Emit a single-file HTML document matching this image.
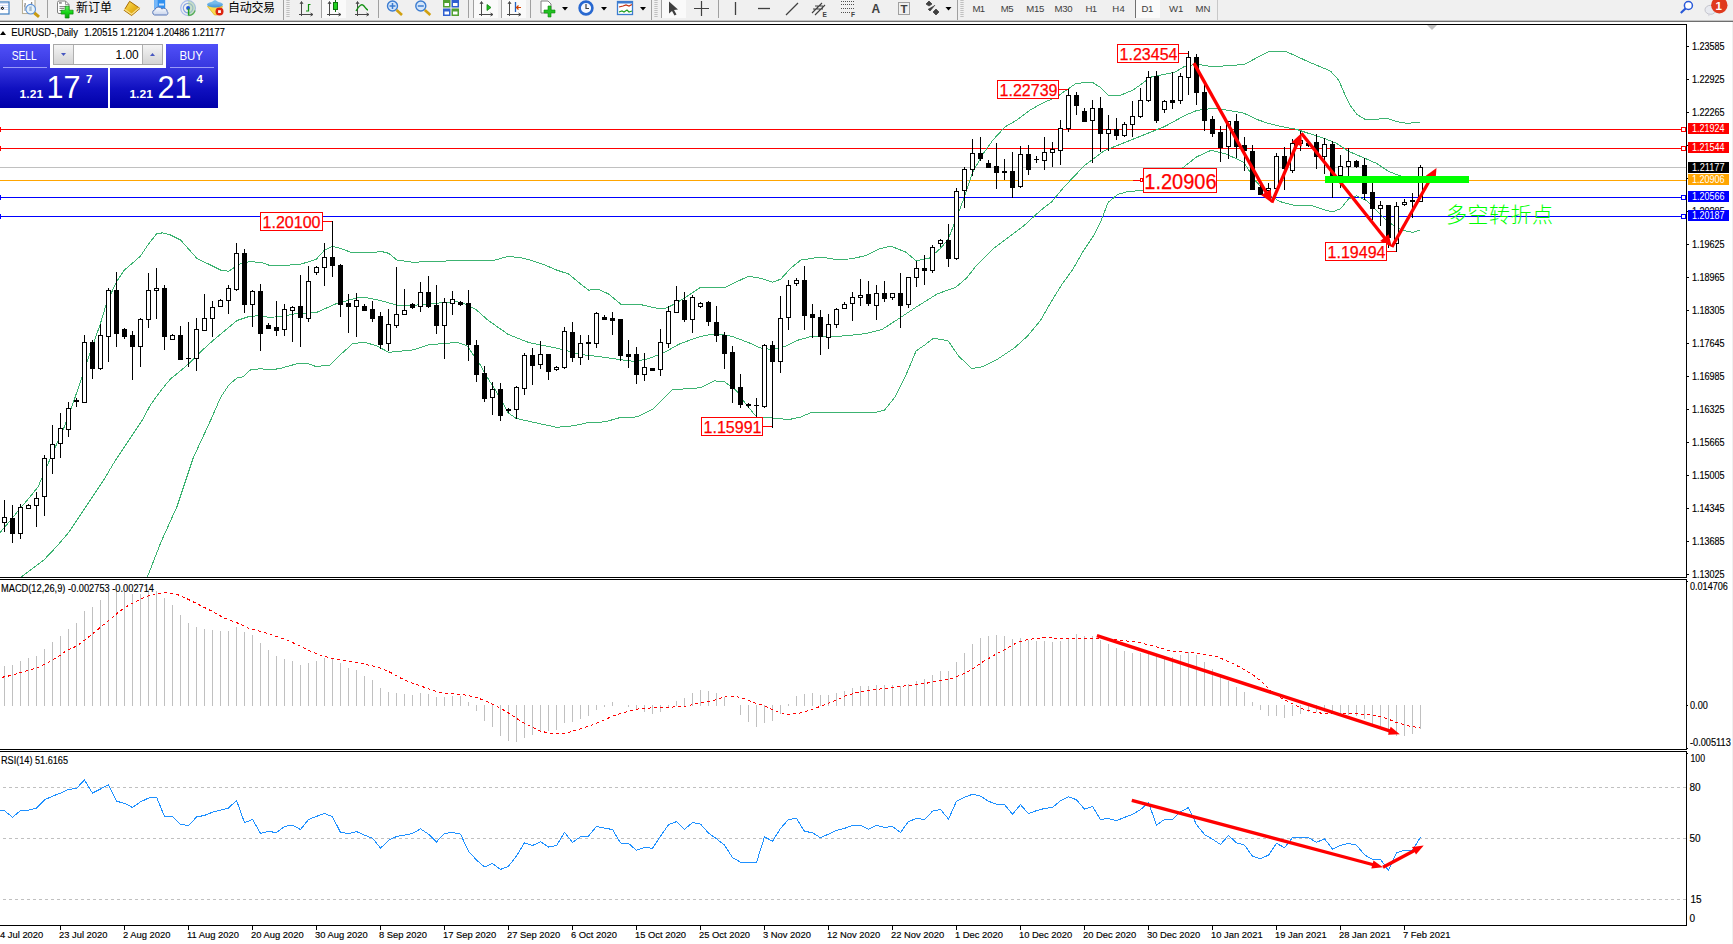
<!DOCTYPE html>
<html><head><meta charset="utf-8"><title>EURUSD Daily</title>
<style>
html,body{margin:0;padding:0;background:#fff;}
body{width:1733px;height:944px;overflow:hidden;position:relative;font-family:"Liberation Sans","Noto Sans CJK SC",sans-serif;}
#tb{position:absolute;left:0;top:0;width:1733px;height:20px;background:#f0f0f0;overflow:hidden;}
#tbl1{position:absolute;left:0;top:20px;width:1733px;height:1px;background:#c4c4c4;}
#tbl2{position:absolute;left:0;top:21px;width:1733px;height:1px;background:#6e6e6e;}
#redge{position:absolute;left:1731.5px;top:22px;width:1.5px;height:922px;background:#f0f0f0;}
.tf{position:absolute;top:3px;font-size:10px;color:#404040;line-height:12px;white-space:nowrap;}
.cn{position:absolute;top:.5px;font-size:12px;line-height:14px;color:#000;white-space:nowrap;}
.sep{position:absolute;top:0;width:1px;height:18px;background:#a0a0a0;}
.hl{position:absolute;top:0;height:18px;background:#f8f8f8;}
</style></head><body>
<div id="tb"><svg width="1733" height="20" viewBox="0 0 1733 20" style="position:absolute;left:0;top:0">
<!-- first icon (partial) -->
<defs>
<linearGradient id="gold" x1="0" y1="0" x2="1" y2="1"><stop offset="0" stop-color="#fbe26a"/><stop offset=".5" stop-color="#eab820"/><stop offset="1" stop-color="#c88a08"/></linearGradient>
<linearGradient id="grn" x1="0" y1="0" x2="0" y2="1"><stop offset="0" stop-color="#60f060"/><stop offset=".5" stop-color="#18d818"/><stop offset="1" stop-color="#08a008"/></linearGradient>
<linearGradient id="cld" x1="0" y1="0" x2="0" y2="1"><stop offset="0" stop-color="#ffffff"/><stop offset="1" stop-color="#c8d4ec"/></linearGradient>
<linearGradient id="hat" x1="0" y1="0" x2="0" y2="1"><stop offset="0" stop-color="#8cc8f0"/><stop offset="1" stop-color="#3c90d8"/></linearGradient>
</defs>
<rect x="-2" y="2" width="11" height="12" fill="#fff" stroke="#3a7cc0" stroke-width="1.200"/>
<path d="M0 3.500h8M0 5.500h8M0 7.500h8M0 9.500h8" stroke="#d4def8" stroke-width="1"/>
<path d="M2.400 6.500l1.800 1.800-1.800 1.800-1.800-1.800z" fill="#000"/><circle cx="2.400" cy="8.300" r=".6" fill="#fff"/>
<!-- chart magnifier -->
<rect x="22.500" y="-.5" width="12.500" height="14" fill="#fff" stroke="#b8b098" stroke-width="1.100"/>
<path d="M25 3v8M25 6h-1M25 4h1M31.500 2v5M31.500 3h1" stroke="#707070" stroke-width=".8" fill="none"/>
<circle cx="30.700" cy="9.200" r="4.800" fill="#e4f2fb" fill-opacity=".9" stroke="#5a90d8" stroke-width="1.100"/>
<rect x="29.300" y="6.500" width="2.400" height="4.500" fill="#a8bccc"/>
<line x1="34.400" y1="13" x2="39" y2="16.800" stroke="#c89a10" stroke-width="3"/>
<!-- new order -->
<path d="M57.500 2.500q0-1.500 1.500-1.500h6.500l3.500 3.500v7.500q0 1.500-1.500 1.500h-8.500q-1.500 0-1.500-1.500z" fill="#fff" stroke="#808080" stroke-width="1"/>
<path d="M65.500 1v3.500h3.500" fill="none" stroke="#808080" stroke-width=".8"/>
<rect x="59" y="2.300" width="2.800" height="1.300" fill="#707070"/>
<path d="M59.500 6.600h7M59.500 8.400h5M59.500 10.500h3" stroke="#808080" stroke-width="1"/>
<path d="M61.200 10.200h4v-4h3.900v4h4v3.900h-4v3.900h-3.900v-3.900h-4z" fill="url(#grn)" stroke="#0a8a0a" stroke-width=".7"/>
<!-- yellow book -->
<path d="M129.600 1.300l10.400 7.100-8.400 7.100-7.500-5.200z" fill="url(#gold)" stroke="#a86a00" stroke-width="1"/>
<path d="M124.100 10.300l7.500 5.200 8.400-7.100" fill="none" stroke="#f8e088" stroke-width="1.200" transform="translate(0,-1.200)"/>
<!-- cloud -->
<path d="M154.200 0h11v9h-11z" fill="#3090f0"/><path d="M154.200 0h3.500v9h-3.500z" fill="#78b8f8"/><rect x="159" y="3.500" width="5" height="2" fill="#d0e4fc"/>
<path d="M154.500 15a2.700 2.700 0 0 1 .3-5.200a3.800 3.800 0 0 1 7-.8a3.300 3.300 0 0 1 5.400 2.600a2 2 0 0 1-.6 3.400z" fill="url(#cld)" stroke="#5878b8" stroke-width="1"/>
<!-- signal -->
<circle cx="188.100" cy="8.100" r="7.400" fill="none" stroke="#a8bcec" stroke-width="1.200"/>
<circle cx="188.100" cy="8.100" r="4.800" fill="none" stroke="#88a4e4" stroke-width="1.200"/>
<path d="M188.100 .7a7.400 7.400 0 0 1 0 14.800z" fill="#a8d0a8" fill-opacity=".55"/>
<circle cx="188.100" cy="8.100" r="2" fill="#2458d8"/>
<path d="M188.600 8.500v7" fill="none" stroke="#20a020" stroke-width="1.500"/><path d="M188.600 15.500a7.400 7.400 0 0 0 6.500-5" fill="none" stroke="#58b058" stroke-width="1.300"/>
<!-- auto trading -->
<path d="M207.500 6.500h15l-5 8.500h-3z" fill="#f8dc50" stroke="#d8a800" stroke-width=".6"/>
<ellipse cx="215" cy="4.500" rx="8" ry="3" fill="url(#hat)"/>
<path d="M211 3.500q4-7 8 0z" fill="#78bcec"/>
<circle cx="219.500" cy="11.600" r="4" fill="#dc2410"/>
<rect x="218.100" y="10.200" width="2.800" height="2.800" fill="#fff"/>
<!-- separators/grips -->
<g stroke="#a0a0a0">
<path d="M47.500 0v18M283.500 0v20M321.500 0v18M378.500 0v18M468.500 0v18M473.500 0v18M501.500 0v18M530.500 0v18M651.500 0v20M661.500 0v18M718.500 0v18M957.500 0v20"/>
<path d="M1135.500 0v18" stroke="#707070"/>
<path d="M1217.500 0v20" stroke="#c8c8c8"/>
</g>
<g stroke="#b0b0b0" stroke-dasharray="1,1">
<path d="M287 0v17M288 0v17M289 0v17M655 0v17M656 0v17M657 0v17M961 0v17M962 0v17M963 0v17"/>
</g>
<!-- highlighted buttons -->
<g fill="#fafafa">
<rect x="322" y="0" width="24" height="18"/><rect x="474" y="0" width="24" height="18"/><rect x="502" y="0" width="24" height="18"/><rect x="662" y="0" width="24" height="18"/><rect x="1136" y="0" width="24" height="18"/>
</g>
<!-- chart type icons -->
<g stroke="#484848" stroke-width="1" fill="none">
<path d="M301.500 2v14M299 14.500h14M301.500 1.500l-1.500 2.500M301.500 1.500l1.500 2.500M313 14.500l-2.500-1.500M313 14.500l-2.500 1.500"/>
<path d="M329.500 2v14M327 14.500h14M329.500 1.500l-1.500 2.500M329.500 1.500l1.500 2.500M341 14.500l-2.500-1.500M341 14.500l-2.500 1.500"/>
<path d="M357.500 2v14M355 14.500h14M357.500 1.500l-1.500 2.500M357.500 1.500l1.500 2.500M369 14.500l-2.500-1.500M369 14.500l-2.500 1.500"/>
<path d="M481.500 2v14M479 14.500h14M481.500 1.500l-1.500 2.500M481.500 1.500l1.500 2.500M493 14.500l-2.500-1.500M493 14.500l-2.500 1.500"/>
<path d="M509.500 2v14M507 14.500h14M509.500 1.500l-1.500 2.500M509.500 1.500l1.500 2.500M521 14.500l-2.500-1.500M521 14.500l-2.500 1.500"/>
</g>
<path d="M308.500 4.500h2M308.500 4v7.500M306 11h2.500" stroke="#109010" stroke-width="1.200" fill="none"/>
<rect x="333.500" y="2.500" width="4" height="7" fill="#20d020" stroke="#107010"/><path d="M335.500 0v2M335.500 10v2" stroke="#107010"/>
<path d="M356 11q5-9 8-5t4 4" stroke="#109010" stroke-width="1.300" fill="none"/>
<path d="M487 4.500v6l4-3z" fill="#20c020" stroke="#108010" stroke-width=".8"/>
<path d="M515.500 2v10" stroke="#2060c0" stroke-width="1.300"/><path d="M521 7.500h-4M518.500 5.500l-2 2 2 2" stroke="#d04000" stroke-width="1.200" fill="none"/>
<!-- zoom in/out -->
<circle cx="392.500" cy="6" r="5" fill="#d4e6fa" stroke="#3c7cd0" stroke-width="1.400"/><path d="M389.500 6h6M392.500 3v6" stroke="#3c7cd0" stroke-width="1.500"/><line x1="396.500" y1="10" x2="402" y2="15" stroke="#d0a010" stroke-width="2.600"/>
<circle cx="420.800" cy="6" r="5" fill="#d4e6fa" stroke="#3c7cd0" stroke-width="1.400"/><path d="M417.800 6h6" stroke="#3c7cd0" stroke-width="1.500"/><line x1="424.800" y1="10" x2="430.300" y2="15" stroke="#d0a010" stroke-width="2.600"/>
<!-- tile -->
<rect x="443" y="0" width="7.500" height="7.500" fill="#50a030"/><rect x="451.500" y="0" width="7.500" height="7.500" fill="#3060d0"/><rect x="443" y="8.500" width="7.500" height="7.500" fill="#3060d0"/><rect x="451.500" y="8.500" width="7.500" height="7.500" fill="#50a030"/>
<g fill="#fff"><rect x="444.500" y="3" width="4.500" height="3"/><rect x="453" y="3" width="4.500" height="3"/><rect x="444.500" y="11.500" width="4.500" height="3"/><rect x="453" y="11.500" width="4.500" height="3"/></g>
<!-- new chart w/ plus -->
<path d="M541 1h7l3 3v9h-10z" fill="#fff" stroke="#808080"/>
<path d="M544 10h4v-4h3v4h4v3h-4v4h-3v-4h-4z" fill="#22c022" stroke="#0a8a0a" stroke-width=".6"/>
<path d="M562 7h6l-3 3.500z" fill="#000"/>
<!-- clock -->
<circle cx="586" cy="8" r="6.400" fill="#f4f8ff" stroke="#2868d0" stroke-width="2.600"/><path d="M586 4v4.500h3" stroke="#404040" stroke-width="1.200" fill="none"/>
<path d="M601 7h6l-3 3.500z" fill="#000"/>
<!-- indicators -->
<rect x="617.500" y="1.500" width="15" height="13" fill="#fff" stroke="#3c7cd0" stroke-width="1.300"/><rect x="617" y="1" width="16" height="2.500" fill="#3c7cd0"/>
<path d="M619 7l4-1 3-1 3 1 3-1.500" stroke="#c03010" fill="none" stroke-width="1.200"/><path d="M619 12l3-1 2 1 3-2 2 2 3-1" stroke="#20a020" fill="none" stroke-width="1.200"/>
<path d="M640 7h6l-3 3.500z" fill="#000"/>
<!-- cursor -->
<path d="M669 1.500v12l3-2.500 2.500 4.500 2-1-2.500-4.500 4-.5z" fill="#404040"/>
<path d="M701.500 1v15M694 8.500h15" stroke="#404040" stroke-width="1.200"/>
<path d="M735.500 2v13" stroke="#404040" stroke-width="1.300"/>
<path d="M758 8.500h12" stroke="#404040" stroke-width="1.300"/>
<path d="M786 15l12-12" stroke="#404040" stroke-width="1.300"/>
<path d="M812 13l10-10M815 15l10-10M813 9h10M815 6h8" stroke="#404040" stroke-width="1.100"/>
<g stroke="#505050" stroke-dasharray="1,1"><path d="M841 1.500h13M841 4.500h13M841 8.500h13M841 12.500h9"/></g>
<rect x="898.500" y="2.500" width="11" height="12" fill="none" stroke="#505050" stroke-dasharray="1,1"/>
<path d="M926 4l3-3 3 3-3 2zM933 12l3-3 3 3-3 3zM928 9l2 2 5-6" fill="#404040" stroke="#404040" stroke-width=".8"/>
<path d="M945.500 7h6l-3 3.500z" fill="#000"/>
<g font-family="'Liberation Sans',sans-serif" fill="#404040">
<text x="871.500" y="12.800" font-size="12" font-weight="bold">A</text>
<text x="900.500" y="13" font-size="11.500" font-weight="bold">T</text>
<text x="822.500" y="17" font-size="6.500" font-weight="bold">E</text>
<text x="851" y="17" font-size="6.500" font-weight="bold">F</text>
<g font-size="9.600">
<text x="972.500" y="11.800" textLength="12.700">M1</text>
<text x="1000.800" y="11.800" textLength="12.700">M5</text>
<text x="1026.300" y="11.800" textLength="18">M15</text>
<text x="1054.600" y="11.800" textLength="18">M30</text>
<text x="1085.600" y="11.800" textLength="11.500">H1</text>
<text x="1112.300" y="11.800" textLength="12.500">H4</text>
<text x="1141.400" y="11.800" textLength="12">D1</text>
<text x="1168.900" y="11.800" textLength="14.400">W1</text>
<text x="1195.400" y="11.800" textLength="15">MN</text>
</g></g>
<!-- search -->
<circle cx="1688.400" cy="5.500" r="4" fill="#fff" stroke="#2858d8" stroke-width="1.500"/><line x1="1685.500" y1="8.500" x2="1680.800" y2="13" stroke="#2858d8" stroke-width="2.200"/>
<!-- chat -->
<ellipse cx="1710.500" cy="9.800" rx="5.500" ry="4.500" fill="#e8eaf0" stroke="#c4c4cc"/><path d="M1708 13.500l.5 3 2.500-2.700z" fill="#d4d4dc"/>
<circle cx="1719.300" cy="5.200" r="8.200" fill="#e03a1e"/>
<text x="1715.600" y="9.600" font-size="11.500" font-weight="bold" fill="#fff" font-family="'Liberation Sans',sans-serif">1</text>
</svg>
<span class="cn" style="left:76px">新订单</span>
<span class="cn" style="left:228px;letter-spacing:-.3px">自动交易</span>
</div><div id="tbl1"></div><div id="tbl2"></div><div id="redge"></div>
<svg id="chart" width="1733" height="944" viewBox="0 0 1733 944" style="position:absolute;left:0;top:0" font-family="'Liberation Sans',sans-serif">
<defs><clipPath id="cm"><rect x="0" y="25" width="1686" height="552"/></clipPath><clipPath id="cc"><rect x="0" y="580" width="1686" height="169"/></clipPath></defs>
<g shape-rendering="crispEdges">
<rect x="0" y="129" width="1686" height="1" fill="#ff0000"/>
<rect x="0" y="148" width="1686" height="1" fill="#ff0000"/>
<rect x="0" y="167" width="1686" height="1" fill="#c0c0c0"/>
<rect x="0" y="180" width="1686" height="1" fill="#ffa500"/>
<rect x="0" y="197" width="1686" height="1" fill="#0000ff"/>
<rect x="0" y="216" width="1686" height="1" fill="#0000ff"/>
<line x1="3" y1="787.5" x2="1686" y2="787.5" stroke="#c0c0c0" stroke-width="1" stroke-dasharray="3,3"/>
<line x1="3" y1="838.5" x2="1686" y2="838.5" stroke="#c0c0c0" stroke-width="1" stroke-dasharray="3,3"/>
<line x1="3" y1="899.5" x2="1686" y2="899.5" stroke="#c0c0c0" stroke-width="1" stroke-dasharray="3,3"/>
</g>
<g clip-path="url(#cm)">
<polyline fill="none" stroke="#3cb371" stroke-width="1" points="0.0,532.6 11.4,519.2 19.1,509.7 30.5,496.3 38.1,486.8 43.9,473.4 49.6,460.1 57.2,442.9 64.8,425.8 72.5,404.8 80.0,383.0 88.0,358.8 100.1,324.6 106.2,304.4 116.2,282.3 124.3,270.2 140.4,256.2 148.4,244.1 156.5,234.0 162.5,232.8 170.5,235.0 180.6,240.0 188.7,249.1 196.7,258.2 208.8,264.2 220.8,270.2 228.9,271.2 239.0,264.2 249.0,261.8 261.1,262.2 269.1,265.2 280.0,265.6 300.1,264.4 316.2,259.3 324.3,250.3 332.3,246.2 340.4,248.3 352.5,252.9 372.6,252.9 380.6,251.3 388.7,253.3 396.7,259.9 412.8,262.3 432.9,261.3 476.0,260.3 492.0,261.0 507.5,256.5 520.0,257.5 530.0,260.0 545.0,265.0 556.5,270.0 568.6,274.0 580.7,284.1 588.7,290.1 598.8,289.5 608.8,294.1 620.9,304.2 639.0,304.2 659.1,308.8 664.0,309.0 672.1,305.3 684.1,298.3 700.2,287.6 724.4,287.6 748.5,276.2 760.6,278.2 772.7,282.2 780.7,279.2 790.8,268.1 800.8,260.1 821.0,257.0 837.1,259.7 852.0,258.8 865.9,255.5 879.1,248.8 891.0,246.2 905.6,252.0 916.2,260.8 929.4,258.1 940.0,248.8 948.0,239.6 955.9,219.7 963.8,198.5 972.7,172.3 982.8,154.2 992.9,140.1 1004.9,127.0 1017.0,120.0 1030.0,110.0 1044.0,102.4 1056.1,97.3 1066.1,90.3 1076.2,83.3 1092.3,82.3 1100.3,87.3 1108.4,95.3 1120.5,95.3 1132.5,90.3 1142.6,83.3 1150.6,77.2 1164.7,74.2 1174.8,72.2 1184.8,66.2 1196.9,64.1 1213.0,66.8 1225.1,65.8 1244.0,64.5 1268.0,51.9 1285.4,51.2 1309.6,62.3 1330.4,71.0 1338.6,80.0 1344.7,94.1 1350.7,106.2 1356.7,114.2 1364.8,119.2 1376.8,119.2 1386.9,118.2 1397.0,121.6 1407.0,123.3 1420.1,122.3" shape-rendering="crispEdges"/>
<polyline fill="none" stroke="#3cb371" stroke-width="1" points="20.0,578.0 43.9,560.0 57.2,545.9 68.6,532.6 80.1,515.4 91.5,498.2 103.0,481.1 114.4,462.0 125.9,444.8 137.3,427.7 142.4,419.9 150.4,405.0 160.5,391.0 170.5,378.9 180.6,370.8 188.7,363.8 200.7,351.7 212.8,340.7 224.9,330.6 237.0,320.5 249.0,316.5 261.1,315.5 269.1,317.5 280.0,316.5 296.1,313.7 316.2,312.6 336.4,303.6 356.5,298.0 366.5,297.6 380.6,300.6 396.7,305.0 416.8,305.0 437.0,303.2 457.1,301.6 467.1,304.6 476.0,309.6 488.1,320.3 508.2,334.4 528.4,342.4 548.5,346.5 562.6,349.5 580.7,354.5 598.8,356.5 618.9,359.5 635.0,361.5 649.1,358.5 659.1,354.5 668.0,350.5 680.1,343.6 700.2,336.5 716.3,333.5 732.4,336.5 748.5,342.6 760.6,348.0 772.7,349.6 784.7,346.6 796.8,340.5 810.9,336.5 831.0,336.9 850.0,335.4 865.9,333.6 881.8,329.6 900.3,317.7 916.2,307.1 937.4,293.8 955.9,287.2 966.5,278.0 977.1,264.7 993.0,248.8 1008.9,236.9 1024.7,225.0 1040.6,210.4 1052.0,201.5 1064.1,186.9 1084.2,165.8 1104.4,150.7 1124.5,142.6 1144.6,134.6 1164.7,126.5 1184.8,115.5 1196.9,110.4 1213.0,108.4 1229.1,110.4 1244.0,113.2 1256.1,119.2 1268.2,123.3 1282.3,126.7 1296.4,129.3 1308.4,133.3 1324.5,138.4 1336.6,143.4 1348.7,151.4 1360.7,156.5 1376.8,163.5 1388.9,171.5 1401.0,176.2 1420.0,178.0" shape-rendering="crispEdges"/>
<polyline fill="none" stroke="#3cb371" stroke-width="1" points="147.0,578.0 161.0,542.0 177.2,506.0 193.3,457.7 210.8,419.9 220.8,397.0 228.9,384.9 237.0,377.9 243.0,376.9 251.0,369.4 261.1,368.8 271.1,369.8 280.0,368.5 296.1,364.0 306.2,363.0 316.2,366.6 330.3,365.0 342.4,352.9 352.5,343.8 364.5,342.2 376.6,345.8 388.7,352.3 412.8,349.9 428.9,344.8 457.1,342.4 467.1,345.8 480.0,364.6 488.1,378.7 498.2,394.7 508.2,412.9 516.3,418.5 536.4,422.9 556.5,427.3 572.6,425.9 588.7,422.5 604.8,421.9 618.9,417.9 637.0,416.9 653.1,408.8 662.0,400.0 672.1,389.8 700.2,387.8 714.3,380.8 724.4,381.8 736.5,390.8 746.5,404.9 756.6,417.0 772.7,418.0 788.8,419.6 800.8,417.0 810.9,412.6 850.0,412.5 876.5,412.2 884.4,410.3 895.0,397.1 905.6,375.9 916.2,350.8 924.1,345.5 933.4,338.3 948.0,340.7 958.6,356.1 971.8,368.5 982.4,366.7 998.3,358.7 1014.2,348.1 1027.4,336.2 1040.6,320.3 1051.2,301.8 1061.8,284.6 1072.4,270.0 1083.0,251.5 1093.6,235.6 1101.5,219.7 1108.1,202.5 1117.4,194.6 1128.0,191.4 1143.6,190.5 1160.0,185.0 1182.8,167.8 1196.9,156.7 1211.0,150.3 1225.1,153.7 1236.0,158.5 1244.0,162.5 1256.1,181.6 1268.2,194.7 1280.3,201.7 1296.4,205.8 1312.5,205.8 1324.5,209.8 1332.6,211.8 1340.6,208.8 1348.7,198.7 1356.7,195.7 1366.8,200.7 1376.8,210.8 1386.9,220.8 1397.0,227.9 1407.0,231.3 1413.1,232.3 1420.1,229.9" shape-rendering="crispEdges"/>
</g>
<g shape-rendering="crispEdges">
<rect x="4" y="500" width="1" height="32" fill="#000"/>
<rect x="2" y="517" width="5" height="6" fill="#000"/>
<rect x="3" y="518" width="3" height="4" fill="#fff"/>
<rect x="12" y="505" width="1" height="38" fill="#000"/>
<rect x="10" y="518" width="5" height="16" fill="#000"/>
<rect x="20" y="504" width="1" height="35" fill="#000"/>
<rect x="18" y="507" width="5" height="27" fill="#000"/>
<rect x="19" y="508" width="3" height="25" fill="#fff"/>
<rect x="28" y="504" width="1" height="5" fill="#000"/>
<rect x="26" y="505" width="5" height="4" fill="#000"/>
<rect x="27" y="506" width="3" height="2" fill="#fff"/>
<rect x="36" y="492" width="1" height="35" fill="#000"/>
<rect x="34" y="498" width="5" height="8" fill="#000"/>
<rect x="35" y="499" width="3" height="6" fill="#fff"/>
<rect x="44" y="455" width="1" height="61" fill="#000"/>
<rect x="42" y="458" width="5" height="39" fill="#000"/>
<rect x="43" y="459" width="3" height="37" fill="#fff"/>
<rect x="52" y="425" width="1" height="49" fill="#000"/>
<rect x="50" y="444" width="5" height="15" fill="#000"/>
<rect x="51" y="445" width="3" height="13" fill="#fff"/>
<rect x="60" y="413" width="1" height="45" fill="#000"/>
<rect x="58" y="428" width="5" height="16" fill="#000"/>
<rect x="59" y="429" width="3" height="14" fill="#fff"/>
<rect x="68" y="402" width="1" height="35" fill="#000"/>
<rect x="66" y="408" width="5" height="22" fill="#000"/>
<rect x="67" y="409" width="3" height="20" fill="#fff"/>
<rect x="76" y="398" width="1" height="9" fill="#000"/>
<rect x="74" y="400" width="5" height="2" fill="#000"/>
<rect x="84" y="335" width="1" height="68" fill="#000"/>
<rect x="82" y="342" width="5" height="61" fill="#000"/>
<rect x="83" y="343" width="3" height="59" fill="#fff"/>
<rect x="92" y="340" width="1" height="39" fill="#000"/>
<rect x="90" y="342" width="5" height="27" fill="#000"/>
<rect x="100" y="324" width="1" height="46" fill="#000"/>
<rect x="98" y="335" width="5" height="34" fill="#000"/>
<rect x="99" y="336" width="3" height="32" fill="#fff"/>
<rect x="108" y="288" width="1" height="74" fill="#000"/>
<rect x="106" y="290" width="5" height="47" fill="#000"/>
<rect x="107" y="291" width="3" height="45" fill="#fff"/>
<rect x="116" y="272" width="1" height="75" fill="#000"/>
<rect x="114" y="290" width="5" height="44" fill="#000"/>
<rect x="124" y="328" width="1" height="11" fill="#000"/>
<rect x="122" y="329" width="5" height="8" fill="#000"/>
<rect x="132" y="331" width="1" height="49" fill="#000"/>
<rect x="130" y="335" width="5" height="12" fill="#000"/>
<rect x="140" y="318" width="1" height="49" fill="#000"/>
<rect x="138" y="319" width="5" height="28" fill="#000"/>
<rect x="139" y="320" width="3" height="26" fill="#fff"/>
<rect x="148" y="273" width="1" height="55" fill="#000"/>
<rect x="146" y="290" width="5" height="30" fill="#000"/>
<rect x="147" y="291" width="3" height="28" fill="#fff"/>
<rect x="156" y="268" width="1" height="51" fill="#000"/>
<rect x="154" y="288" width="5" height="3" fill="#000"/>
<rect x="155" y="289" width="3" height="1" fill="#fff"/>
<rect x="164" y="285" width="1" height="65" fill="#000"/>
<rect x="162" y="288" width="5" height="49" fill="#000"/>
<rect x="172" y="334" width="1" height="6" fill="#000"/>
<rect x="170" y="335" width="5" height="5" fill="#000"/>
<rect x="171" y="336" width="3" height="3" fill="#fff"/>
<rect x="180" y="326" width="1" height="34" fill="#000"/>
<rect x="178" y="335" width="5" height="25" fill="#000"/>
<rect x="188" y="322" width="1" height="45" fill="#000"/>
<rect x="186" y="358" width="5" height="1" fill="#000"/>
<rect x="196" y="318" width="1" height="53" fill="#000"/>
<rect x="194" y="329" width="5" height="30" fill="#000"/>
<rect x="195" y="330" width="3" height="28" fill="#fff"/>
<rect x="204" y="294" width="1" height="37" fill="#000"/>
<rect x="202" y="318" width="5" height="13" fill="#000"/>
<rect x="203" y="319" width="3" height="11" fill="#fff"/>
<rect x="212" y="301" width="1" height="36" fill="#000"/>
<rect x="210" y="307" width="5" height="12" fill="#000"/>
<rect x="211" y="308" width="3" height="10" fill="#fff"/>
<rect x="220" y="299" width="1" height="8" fill="#000"/>
<rect x="218" y="300" width="5" height="7" fill="#000"/>
<rect x="219" y="301" width="3" height="5" fill="#fff"/>
<rect x="228" y="285" width="1" height="29" fill="#000"/>
<rect x="226" y="288" width="5" height="13" fill="#000"/>
<rect x="227" y="289" width="3" height="11" fill="#fff"/>
<rect x="236" y="243" width="1" height="48" fill="#000"/>
<rect x="234" y="253" width="5" height="37" fill="#000"/>
<rect x="235" y="254" width="3" height="35" fill="#fff"/>
<rect x="244" y="249" width="1" height="64" fill="#000"/>
<rect x="242" y="253" width="5" height="52" fill="#000"/>
<rect x="252" y="290" width="1" height="37" fill="#000"/>
<rect x="250" y="291" width="5" height="14" fill="#000"/>
<rect x="251" y="292" width="3" height="12" fill="#fff"/>
<rect x="260" y="284" width="1" height="67" fill="#000"/>
<rect x="258" y="291" width="5" height="43" fill="#000"/>
<rect x="268" y="323" width="1" height="6" fill="#000"/>
<rect x="266" y="325" width="5" height="4" fill="#000"/>
<rect x="276" y="301" width="1" height="35" fill="#000"/>
<rect x="274" y="327" width="5" height="4" fill="#000"/>
<rect x="284" y="304" width="1" height="32" fill="#000"/>
<rect x="282" y="309" width="5" height="21" fill="#000"/>
<rect x="283" y="310" width="3" height="19" fill="#fff"/>
<rect x="292" y="306" width="1" height="36" fill="#000"/>
<rect x="290" y="307" width="5" height="4" fill="#000"/>
<rect x="291" y="308" width="3" height="2" fill="#fff"/>
<rect x="300" y="275" width="1" height="72" fill="#000"/>
<rect x="298" y="306" width="5" height="12" fill="#000"/>
<rect x="308" y="266" width="1" height="56" fill="#000"/>
<rect x="306" y="281" width="5" height="38" fill="#000"/>
<rect x="307" y="282" width="3" height="36" fill="#fff"/>
<rect x="316" y="266" width="1" height="9" fill="#000"/>
<rect x="314" y="267" width="5" height="6" fill="#000"/>
<rect x="315" y="268" width="3" height="4" fill="#fff"/>
<rect x="324" y="243" width="1" height="43" fill="#000"/>
<rect x="322" y="257" width="5" height="11" fill="#000"/>
<rect x="323" y="258" width="3" height="9" fill="#fff"/>
<rect x="332" y="221" width="1" height="56" fill="#000"/>
<rect x="330" y="257" width="5" height="9" fill="#000"/>
<rect x="340" y="264" width="1" height="53" fill="#000"/>
<rect x="338" y="265" width="5" height="40" fill="#000"/>
<rect x="348" y="294" width="1" height="39" fill="#000"/>
<rect x="346" y="303" width="5" height="4" fill="#000"/>
<rect x="356" y="293" width="1" height="44" fill="#000"/>
<rect x="354" y="300" width="5" height="7" fill="#000"/>
<rect x="355" y="301" width="3" height="5" fill="#fff"/>
<rect x="364" y="304" width="1" height="7" fill="#000"/>
<rect x="362" y="306" width="5" height="5" fill="#000"/>
<rect x="372" y="301" width="1" height="21" fill="#000"/>
<rect x="370" y="309" width="5" height="10" fill="#000"/>
<rect x="380" y="312" width="1" height="37" fill="#000"/>
<rect x="378" y="316" width="5" height="29" fill="#000"/>
<rect x="388" y="309" width="1" height="42" fill="#000"/>
<rect x="386" y="324" width="5" height="20" fill="#000"/>
<rect x="387" y="325" width="3" height="18" fill="#fff"/>
<rect x="396" y="267" width="1" height="61" fill="#000"/>
<rect x="394" y="314" width="5" height="12" fill="#000"/>
<rect x="395" y="315" width="3" height="10" fill="#fff"/>
<rect x="404" y="289" width="1" height="26" fill="#000"/>
<rect x="402" y="310" width="5" height="5" fill="#000"/>
<rect x="403" y="311" width="3" height="3" fill="#fff"/>
<rect x="412" y="303" width="1" height="6" fill="#000"/>
<rect x="410" y="304" width="5" height="4" fill="#000"/>
<rect x="420" y="282" width="1" height="30" fill="#000"/>
<rect x="418" y="292" width="5" height="15" fill="#000"/>
<rect x="419" y="293" width="3" height="13" fill="#fff"/>
<rect x="428" y="276" width="1" height="32" fill="#000"/>
<rect x="426" y="292" width="5" height="15" fill="#000"/>
<rect x="436" y="285" width="1" height="49" fill="#000"/>
<rect x="434" y="305" width="5" height="21" fill="#000"/>
<rect x="444" y="298" width="1" height="61" fill="#000"/>
<rect x="442" y="302" width="5" height="24" fill="#000"/>
<rect x="443" y="303" width="3" height="22" fill="#fff"/>
<rect x="452" y="291" width="1" height="24" fill="#000"/>
<rect x="450" y="299" width="5" height="5" fill="#000"/>
<rect x="451" y="300" width="3" height="3" fill="#fff"/>
<rect x="460" y="301" width="1" height="5" fill="#000"/>
<rect x="458" y="302" width="5" height="3" fill="#000"/>
<rect x="468" y="290" width="1" height="71" fill="#000"/>
<rect x="466" y="303" width="5" height="42" fill="#000"/>
<rect x="476" y="340" width="1" height="42" fill="#000"/>
<rect x="474" y="345" width="5" height="30" fill="#000"/>
<rect x="484" y="366" width="1" height="36" fill="#000"/>
<rect x="482" y="373" width="5" height="26" fill="#000"/>
<rect x="492" y="382" width="1" height="33" fill="#000"/>
<rect x="490" y="389" width="5" height="9" fill="#000"/>
<rect x="491" y="390" width="3" height="7" fill="#fff"/>
<rect x="500" y="383" width="1" height="38" fill="#000"/>
<rect x="498" y="389" width="5" height="27" fill="#000"/>
<rect x="508" y="408" width="1" height="5" fill="#000"/>
<rect x="506" y="409" width="5" height="2" fill="#000"/>
<rect x="516" y="386" width="1" height="33" fill="#000"/>
<rect x="514" y="387" width="5" height="23" fill="#000"/>
<rect x="515" y="388" width="3" height="21" fill="#fff"/>
<rect x="524" y="353" width="1" height="42" fill="#000"/>
<rect x="522" y="355" width="5" height="34" fill="#000"/>
<rect x="523" y="356" width="3" height="32" fill="#fff"/>
<rect x="532" y="348" width="1" height="37" fill="#000"/>
<rect x="530" y="355" width="5" height="11" fill="#000"/>
<rect x="540" y="341" width="1" height="28" fill="#000"/>
<rect x="538" y="354" width="5" height="11" fill="#000"/>
<rect x="539" y="355" width="3" height="9" fill="#fff"/>
<rect x="548" y="354" width="1" height="26" fill="#000"/>
<rect x="546" y="354" width="5" height="18" fill="#000"/>
<rect x="556" y="366" width="1" height="5" fill="#000"/>
<rect x="554" y="367" width="5" height="3" fill="#000"/>
<rect x="555" y="368" width="3" height="1" fill="#fff"/>
<rect x="564" y="327" width="1" height="42" fill="#000"/>
<rect x="562" y="331" width="5" height="37" fill="#000"/>
<rect x="563" y="332" width="3" height="35" fill="#fff"/>
<rect x="572" y="322" width="1" height="40" fill="#000"/>
<rect x="570" y="332" width="5" height="26" fill="#000"/>
<rect x="580" y="335" width="1" height="30" fill="#000"/>
<rect x="578" y="343" width="5" height="15" fill="#000"/>
<rect x="579" y="344" width="3" height="13" fill="#fff"/>
<rect x="588" y="335" width="1" height="25" fill="#000"/>
<rect x="586" y="342" width="5" height="2" fill="#000"/>
<rect x="596" y="312" width="1" height="36" fill="#000"/>
<rect x="594" y="313" width="5" height="31" fill="#000"/>
<rect x="595" y="314" width="3" height="29" fill="#fff"/>
<rect x="604" y="315" width="1" height="5" fill="#000"/>
<rect x="602" y="317" width="5" height="3" fill="#000"/>
<rect x="612" y="312" width="1" height="23" fill="#000"/>
<rect x="610" y="318" width="5" height="3" fill="#000"/>
<rect x="620" y="319" width="1" height="42" fill="#000"/>
<rect x="618" y="319" width="5" height="37" fill="#000"/>
<rect x="628" y="340" width="1" height="28" fill="#000"/>
<rect x="626" y="354" width="5" height="3" fill="#000"/>
<rect x="636" y="347" width="1" height="37" fill="#000"/>
<rect x="634" y="354" width="5" height="21" fill="#000"/>
<rect x="644" y="353" width="1" height="28" fill="#000"/>
<rect x="642" y="367" width="5" height="8" fill="#000"/>
<rect x="643" y="368" width="3" height="6" fill="#fff"/>
<rect x="652" y="368" width="1" height="3" fill="#000"/>
<rect x="650" y="368" width="5" height="3" fill="#000"/>
<rect x="660" y="329" width="1" height="47" fill="#000"/>
<rect x="658" y="342" width="5" height="28" fill="#000"/>
<rect x="659" y="343" width="3" height="26" fill="#fff"/>
<rect x="668" y="306" width="1" height="42" fill="#000"/>
<rect x="666" y="311" width="5" height="33" fill="#000"/>
<rect x="667" y="312" width="3" height="31" fill="#fff"/>
<rect x="676" y="286" width="1" height="27" fill="#000"/>
<rect x="674" y="300" width="5" height="13" fill="#000"/>
<rect x="675" y="301" width="3" height="11" fill="#fff"/>
<rect x="684" y="292" width="1" height="30" fill="#000"/>
<rect x="682" y="300" width="5" height="20" fill="#000"/>
<rect x="692" y="295" width="1" height="38" fill="#000"/>
<rect x="690" y="297" width="5" height="23" fill="#000"/>
<rect x="691" y="298" width="3" height="21" fill="#fff"/>
<rect x="700" y="302" width="1" height="6" fill="#000"/>
<rect x="698" y="303" width="5" height="4" fill="#000"/>
<rect x="699" y="304" width="3" height="2" fill="#fff"/>
<rect x="708" y="301" width="1" height="25" fill="#000"/>
<rect x="706" y="302" width="5" height="20" fill="#000"/>
<rect x="716" y="306" width="1" height="36" fill="#000"/>
<rect x="714" y="322" width="5" height="14" fill="#000"/>
<rect x="724" y="332" width="1" height="37" fill="#000"/>
<rect x="722" y="335" width="5" height="19" fill="#000"/>
<rect x="732" y="346" width="1" height="57" fill="#000"/>
<rect x="730" y="352" width="5" height="37" fill="#000"/>
<rect x="740" y="374" width="1" height="34" fill="#000"/>
<rect x="738" y="387" width="5" height="18" fill="#000"/>
<rect x="748" y="403" width="1" height="5" fill="#000"/>
<rect x="746" y="404" width="5" height="2" fill="#000"/>
<rect x="756" y="398" width="1" height="19" fill="#000"/>
<rect x="754" y="405" width="5" height="1" fill="#000"/>
<rect x="764" y="344" width="1" height="64" fill="#000"/>
<rect x="762" y="345" width="5" height="62" fill="#000"/>
<rect x="763" y="346" width="3" height="60" fill="#fff"/>
<rect x="772" y="341" width="1" height="87" fill="#000"/>
<rect x="770" y="345" width="5" height="17" fill="#000"/>
<rect x="780" y="296" width="1" height="77" fill="#000"/>
<rect x="778" y="318" width="5" height="44" fill="#000"/>
<rect x="779" y="319" width="3" height="42" fill="#fff"/>
<rect x="788" y="280" width="1" height="50" fill="#000"/>
<rect x="786" y="285" width="5" height="33" fill="#000"/>
<rect x="787" y="286" width="3" height="31" fill="#fff"/>
<rect x="796" y="278" width="1" height="8" fill="#000"/>
<rect x="794" y="280" width="5" height="4" fill="#000"/>
<rect x="795" y="281" width="3" height="2" fill="#fff"/>
<rect x="804" y="266" width="1" height="64" fill="#000"/>
<rect x="802" y="280" width="5" height="36" fill="#000"/>
<rect x="812" y="304" width="1" height="34" fill="#000"/>
<rect x="810" y="314" width="5" height="4" fill="#000"/>
<rect x="820" y="310" width="1" height="45" fill="#000"/>
<rect x="818" y="317" width="5" height="20" fill="#000"/>
<rect x="828" y="314" width="1" height="35" fill="#000"/>
<rect x="826" y="324" width="5" height="14" fill="#000"/>
<rect x="827" y="325" width="3" height="12" fill="#fff"/>
<rect x="836" y="308" width="1" height="20" fill="#000"/>
<rect x="834" y="309" width="5" height="16" fill="#000"/>
<rect x="835" y="310" width="3" height="14" fill="#fff"/>
<rect x="844" y="302" width="1" height="7" fill="#000"/>
<rect x="842" y="304" width="5" height="5" fill="#000"/>
<rect x="843" y="305" width="3" height="3" fill="#fff"/>
<rect x="852" y="292" width="1" height="29" fill="#000"/>
<rect x="850" y="297" width="5" height="7" fill="#000"/>
<rect x="851" y="298" width="3" height="5" fill="#fff"/>
<rect x="860" y="279" width="1" height="27" fill="#000"/>
<rect x="858" y="295" width="5" height="3" fill="#000"/>
<rect x="859" y="296" width="3" height="1" fill="#fff"/>
<rect x="868" y="281" width="1" height="25" fill="#000"/>
<rect x="866" y="294" width="5" height="10" fill="#000"/>
<rect x="876" y="285" width="1" height="35" fill="#000"/>
<rect x="874" y="293" width="5" height="13" fill="#000"/>
<rect x="875" y="294" width="3" height="11" fill="#fff"/>
<rect x="884" y="281" width="1" height="21" fill="#000"/>
<rect x="882" y="293" width="5" height="6" fill="#000"/>
<rect x="892" y="293" width="1" height="7" fill="#000"/>
<rect x="890" y="293" width="5" height="5" fill="#000"/>
<rect x="891" y="294" width="3" height="3" fill="#fff"/>
<rect x="900" y="273" width="1" height="55" fill="#000"/>
<rect x="898" y="293" width="5" height="13" fill="#000"/>
<rect x="908" y="277" width="1" height="31" fill="#000"/>
<rect x="906" y="277" width="5" height="28" fill="#000"/>
<rect x="907" y="278" width="3" height="26" fill="#fff"/>
<rect x="916" y="261" width="1" height="26" fill="#000"/>
<rect x="914" y="268" width="5" height="10" fill="#000"/>
<rect x="915" y="269" width="3" height="8" fill="#fff"/>
<rect x="924" y="255" width="1" height="30" fill="#000"/>
<rect x="922" y="268" width="5" height="3" fill="#000"/>
<rect x="932" y="245" width="1" height="28" fill="#000"/>
<rect x="930" y="247" width="5" height="24" fill="#000"/>
<rect x="931" y="248" width="3" height="22" fill="#fff"/>
<rect x="940" y="239" width="1" height="8" fill="#000"/>
<rect x="938" y="240" width="5" height="4" fill="#000"/>
<rect x="939" y="241" width="3" height="2" fill="#fff"/>
<rect x="948" y="224" width="1" height="43" fill="#000"/>
<rect x="946" y="240" width="5" height="19" fill="#000"/>
<rect x="956" y="188" width="1" height="72" fill="#000"/>
<rect x="954" y="191" width="5" height="68" fill="#000"/>
<rect x="955" y="192" width="3" height="66" fill="#fff"/>
<rect x="964" y="167" width="1" height="41" fill="#000"/>
<rect x="962" y="169" width="5" height="22" fill="#000"/>
<rect x="963" y="170" width="3" height="20" fill="#fff"/>
<rect x="972" y="139" width="1" height="37" fill="#000"/>
<rect x="970" y="153" width="5" height="17" fill="#000"/>
<rect x="971" y="154" width="3" height="15" fill="#fff"/>
<rect x="980" y="137" width="1" height="24" fill="#000"/>
<rect x="978" y="153" width="5" height="6" fill="#000"/>
<rect x="988" y="160" width="1" height="8" fill="#000"/>
<rect x="986" y="163" width="5" height="5" fill="#000"/>
<rect x="996" y="143" width="1" height="46" fill="#000"/>
<rect x="994" y="166" width="5" height="7" fill="#000"/>
<rect x="1004" y="159" width="1" height="21" fill="#000"/>
<rect x="1002" y="171" width="5" height="2" fill="#000"/>
<rect x="1012" y="152" width="1" height="46" fill="#000"/>
<rect x="1010" y="171" width="5" height="17" fill="#000"/>
<rect x="1020" y="146" width="1" height="42" fill="#000"/>
<rect x="1018" y="154" width="5" height="33" fill="#000"/>
<rect x="1019" y="155" width="3" height="31" fill="#fff"/>
<rect x="1028" y="145" width="1" height="30" fill="#000"/>
<rect x="1026" y="154" width="5" height="16" fill="#000"/>
<rect x="1036" y="156" width="1" height="7" fill="#000"/>
<rect x="1034" y="159" width="5" height="1" fill="#000"/>
<rect x="1044" y="137" width="1" height="33" fill="#000"/>
<rect x="1042" y="152" width="5" height="9" fill="#000"/>
<rect x="1043" y="153" width="3" height="7" fill="#fff"/>
<rect x="1052" y="142" width="1" height="25" fill="#000"/>
<rect x="1050" y="149" width="5" height="4" fill="#000"/>
<rect x="1051" y="150" width="3" height="2" fill="#fff"/>
<rect x="1060" y="120" width="1" height="45" fill="#000"/>
<rect x="1058" y="128" width="5" height="23" fill="#000"/>
<rect x="1059" y="129" width="3" height="21" fill="#fff"/>
<rect x="1068" y="89" width="1" height="43" fill="#000"/>
<rect x="1066" y="95" width="5" height="34" fill="#000"/>
<rect x="1067" y="96" width="3" height="32" fill="#fff"/>
<rect x="1076" y="92" width="1" height="23" fill="#000"/>
<rect x="1074" y="95" width="5" height="11" fill="#000"/>
<rect x="1084" y="108" width="1" height="14" fill="#000"/>
<rect x="1082" y="111" width="5" height="11" fill="#000"/>
<rect x="1092" y="100" width="1" height="63" fill="#000"/>
<rect x="1090" y="108" width="5" height="13" fill="#000"/>
<rect x="1091" y="109" width="3" height="11" fill="#fff"/>
<rect x="1100" y="97" width="1" height="55" fill="#000"/>
<rect x="1098" y="108" width="5" height="26" fill="#000"/>
<rect x="1108" y="115" width="1" height="36" fill="#000"/>
<rect x="1106" y="129" width="5" height="5" fill="#000"/>
<rect x="1107" y="130" width="3" height="3" fill="#fff"/>
<rect x="1116" y="118" width="1" height="22" fill="#000"/>
<rect x="1114" y="129" width="5" height="7" fill="#000"/>
<rect x="1124" y="122" width="1" height="15" fill="#000"/>
<rect x="1122" y="124" width="5" height="12" fill="#000"/>
<rect x="1123" y="125" width="3" height="10" fill="#fff"/>
<rect x="1132" y="101" width="1" height="36" fill="#000"/>
<rect x="1130" y="116" width="5" height="9" fill="#000"/>
<rect x="1131" y="117" width="3" height="7" fill="#fff"/>
<rect x="1140" y="88" width="1" height="30" fill="#000"/>
<rect x="1138" y="100" width="5" height="17" fill="#000"/>
<rect x="1139" y="101" width="3" height="15" fill="#fff"/>
<rect x="1148" y="71" width="1" height="31" fill="#000"/>
<rect x="1146" y="77" width="5" height="24" fill="#000"/>
<rect x="1147" y="78" width="3" height="22" fill="#fff"/>
<rect x="1156" y="71" width="1" height="52" fill="#000"/>
<rect x="1154" y="76" width="5" height="45" fill="#000"/>
<rect x="1164" y="100" width="1" height="13" fill="#000"/>
<rect x="1162" y="101" width="5" height="9" fill="#000"/>
<rect x="1163" y="102" width="3" height="7" fill="#fff"/>
<rect x="1172" y="72" width="1" height="37" fill="#000"/>
<rect x="1170" y="100" width="5" height="3" fill="#000"/>
<rect x="1180" y="73" width="1" height="31" fill="#000"/>
<rect x="1178" y="76" width="5" height="25" fill="#000"/>
<rect x="1179" y="77" width="3" height="23" fill="#fff"/>
<rect x="1188" y="51" width="1" height="44" fill="#000"/>
<rect x="1186" y="57" width="5" height="21" fill="#000"/>
<rect x="1187" y="58" width="3" height="19" fill="#fff"/>
<rect x="1196" y="54" width="1" height="51" fill="#000"/>
<rect x="1194" y="57" width="5" height="36" fill="#000"/>
<rect x="1204" y="84" width="1" height="47" fill="#000"/>
<rect x="1202" y="92" width="5" height="29" fill="#000"/>
<rect x="1212" y="116" width="1" height="21" fill="#000"/>
<rect x="1210" y="119" width="5" height="15" fill="#000"/>
<rect x="1220" y="126" width="1" height="36" fill="#000"/>
<rect x="1218" y="132" width="5" height="16" fill="#000"/>
<rect x="1228" y="121" width="1" height="38" fill="#000"/>
<rect x="1226" y="121" width="5" height="26" fill="#000"/>
<rect x="1227" y="122" width="3" height="24" fill="#fff"/>
<rect x="1236" y="114" width="1" height="44" fill="#000"/>
<rect x="1234" y="121" width="5" height="26" fill="#000"/>
<rect x="1244" y="137" width="1" height="34" fill="#000"/>
<rect x="1242" y="145" width="5" height="6" fill="#000"/>
<rect x="1252" y="145" width="1" height="45" fill="#000"/>
<rect x="1250" y="151" width="5" height="39" fill="#000"/>
<rect x="1260" y="185" width="1" height="10" fill="#000"/>
<rect x="1258" y="187" width="5" height="8" fill="#000"/>
<rect x="1268" y="183" width="1" height="11" fill="#000"/>
<rect x="1266" y="188" width="5" height="3" fill="#000"/>
<rect x="1267" y="189" width="3" height="1" fill="#fff"/>
<rect x="1276" y="153" width="1" height="37" fill="#000"/>
<rect x="1274" y="156" width="5" height="33" fill="#000"/>
<rect x="1275" y="157" width="3" height="31" fill="#fff"/>
<rect x="1284" y="147" width="1" height="43" fill="#000"/>
<rect x="1282" y="156" width="5" height="13" fill="#000"/>
<rect x="1292" y="139" width="1" height="34" fill="#000"/>
<rect x="1290" y="143" width="5" height="28" fill="#000"/>
<rect x="1291" y="144" width="3" height="26" fill="#fff"/>
<rect x="1300" y="131" width="1" height="20" fill="#000"/>
<rect x="1298" y="140" width="5" height="4" fill="#000"/>
<rect x="1299" y="141" width="3" height="2" fill="#fff"/>
<rect x="1308" y="141" width="1" height="6" fill="#000"/>
<rect x="1306" y="143" width="5" height="3" fill="#000"/>
<rect x="1316" y="134" width="1" height="35" fill="#000"/>
<rect x="1314" y="142" width="5" height="15" fill="#000"/>
<rect x="1324" y="138" width="1" height="36" fill="#000"/>
<rect x="1322" y="144" width="5" height="13" fill="#000"/>
<rect x="1323" y="145" width="3" height="11" fill="#fff"/>
<rect x="1332" y="141" width="1" height="57" fill="#000"/>
<rect x="1330" y="144" width="5" height="32" fill="#000"/>
<rect x="1340" y="155" width="1" height="33" fill="#000"/>
<rect x="1338" y="166" width="5" height="10" fill="#000"/>
<rect x="1339" y="167" width="3" height="8" fill="#fff"/>
<rect x="1348" y="148" width="1" height="30" fill="#000"/>
<rect x="1346" y="161" width="5" height="6" fill="#000"/>
<rect x="1347" y="162" width="3" height="4" fill="#fff"/>
<rect x="1356" y="160" width="1" height="8" fill="#000"/>
<rect x="1354" y="161" width="5" height="6" fill="#000"/>
<rect x="1364" y="158" width="1" height="42" fill="#000"/>
<rect x="1362" y="165" width="5" height="29" fill="#000"/>
<rect x="1372" y="183" width="1" height="37" fill="#000"/>
<rect x="1370" y="192" width="5" height="17" fill="#000"/>
<rect x="1380" y="201" width="1" height="25" fill="#000"/>
<rect x="1378" y="205" width="5" height="4" fill="#000"/>
<rect x="1379" y="206" width="3" height="2" fill="#fff"/>
<rect x="1388" y="205" width="1" height="43" fill="#000"/>
<rect x="1386" y="205" width="5" height="33" fill="#000"/>
<rect x="1396" y="202" width="1" height="50" fill="#000"/>
<rect x="1394" y="206" width="5" height="38" fill="#000"/>
<rect x="1395" y="207" width="3" height="36" fill="#fff"/>
<rect x="1404" y="199" width="1" height="7" fill="#000"/>
<rect x="1402" y="202" width="5" height="3" fill="#000"/>
<rect x="1403" y="203" width="3" height="1" fill="#fff"/>
<rect x="1412" y="193" width="1" height="25" fill="#000"/>
<rect x="1410" y="200" width="5" height="2" fill="#000"/>
<rect x="1420" y="165" width="1" height="37" fill="#000"/>
<rect x="1418" y="167" width="5" height="35" fill="#000"/>
<rect x="1419" y="168" width="3" height="33" fill="#fff"/>
<rect x="4" y="666" width="1" height="40" fill="#c0c0c0"/>
<rect x="12" y="665" width="1" height="41" fill="#c0c0c0"/>
<rect x="20" y="661" width="1" height="45" fill="#c0c0c0"/>
<rect x="28" y="658" width="1" height="48" fill="#c0c0c0"/>
<rect x="36" y="656" width="1" height="50" fill="#c0c0c0"/>
<rect x="44" y="649" width="1" height="57" fill="#c0c0c0"/>
<rect x="52" y="642" width="1" height="64" fill="#c0c0c0"/>
<rect x="60" y="636" width="1" height="70" fill="#c0c0c0"/>
<rect x="68" y="629" width="1" height="77" fill="#c0c0c0"/>
<rect x="76" y="623" width="1" height="83" fill="#c0c0c0"/>
<rect x="84" y="611" width="1" height="95" fill="#c0c0c0"/>
<rect x="92" y="607" width="1" height="99" fill="#c0c0c0"/>
<rect x="100" y="600" width="1" height="106" fill="#c0c0c0"/>
<rect x="108" y="592" width="1" height="114" fill="#c0c0c0"/>
<rect x="116" y="590" width="1" height="116" fill="#c0c0c0"/>
<rect x="124" y="592" width="1" height="114" fill="#c0c0c0"/>
<rect x="132" y="594" width="1" height="112" fill="#c0c0c0"/>
<rect x="140" y="594" width="1" height="112" fill="#c0c0c0"/>
<rect x="148" y="590" width="1" height="116" fill="#c0c0c0"/>
<rect x="156" y="591" width="1" height="115" fill="#c0c0c0"/>
<rect x="164" y="598" width="1" height="108" fill="#c0c0c0"/>
<rect x="172" y="605" width="1" height="101" fill="#c0c0c0"/>
<rect x="180" y="615" width="1" height="91" fill="#c0c0c0"/>
<rect x="188" y="623" width="1" height="83" fill="#c0c0c0"/>
<rect x="196" y="627" width="1" height="79" fill="#c0c0c0"/>
<rect x="204" y="629" width="1" height="77" fill="#c0c0c0"/>
<rect x="212" y="630" width="1" height="76" fill="#c0c0c0"/>
<rect x="220" y="631" width="1" height="75" fill="#c0c0c0"/>
<rect x="228" y="631" width="1" height="75" fill="#c0c0c0"/>
<rect x="236" y="627" width="1" height="79" fill="#c0c0c0"/>
<rect x="244" y="632" width="1" height="74" fill="#c0c0c0"/>
<rect x="252" y="635" width="1" height="71" fill="#c0c0c0"/>
<rect x="260" y="643" width="1" height="63" fill="#c0c0c0"/>
<rect x="268" y="650" width="1" height="56" fill="#c0c0c0"/>
<rect x="276" y="656" width="1" height="50" fill="#c0c0c0"/>
<rect x="284" y="659" width="1" height="47" fill="#c0c0c0"/>
<rect x="292" y="661" width="1" height="45" fill="#c0c0c0"/>
<rect x="300" y="665" width="1" height="41" fill="#c0c0c0"/>
<rect x="308" y="663" width="1" height="43" fill="#c0c0c0"/>
<rect x="316" y="661" width="1" height="45" fill="#c0c0c0"/>
<rect x="324" y="658" width="1" height="48" fill="#c0c0c0"/>
<rect x="332" y="658" width="1" height="48" fill="#c0c0c0"/>
<rect x="340" y="663" width="1" height="43" fill="#c0c0c0"/>
<rect x="348" y="668" width="1" height="38" fill="#c0c0c0"/>
<rect x="356" y="670" width="1" height="36" fill="#c0c0c0"/>
<rect x="364" y="676" width="1" height="30" fill="#c0c0c0"/>
<rect x="372" y="680" width="1" height="26" fill="#c0c0c0"/>
<rect x="380" y="688" width="1" height="18" fill="#c0c0c0"/>
<rect x="388" y="692" width="1" height="14" fill="#c0c0c0"/>
<rect x="396" y="693" width="1" height="13" fill="#c0c0c0"/>
<rect x="404" y="694" width="1" height="12" fill="#c0c0c0"/>
<rect x="412" y="695" width="1" height="11" fill="#c0c0c0"/>
<rect x="420" y="693" width="1" height="13" fill="#c0c0c0"/>
<rect x="428" y="694" width="1" height="12" fill="#c0c0c0"/>
<rect x="436" y="697" width="1" height="9" fill="#c0c0c0"/>
<rect x="444" y="697" width="1" height="9" fill="#c0c0c0"/>
<rect x="452" y="696" width="1" height="10" fill="#c0c0c0"/>
<rect x="460" y="696" width="1" height="10" fill="#c0c0c0"/>
<rect x="468" y="702" width="1" height="4" fill="#c0c0c0"/>
<rect x="476" y="705" width="1" height="6" fill="#c0c0c0"/>
<rect x="484" y="705" width="1" height="16" fill="#c0c0c0"/>
<rect x="492" y="705" width="1" height="22" fill="#c0c0c0"/>
<rect x="500" y="705" width="1" height="31" fill="#c0c0c0"/>
<rect x="508" y="705" width="1" height="36" fill="#c0c0c0"/>
<rect x="516" y="705" width="1" height="37" fill="#c0c0c0"/>
<rect x="524" y="705" width="1" height="33" fill="#c0c0c0"/>
<rect x="532" y="705" width="1" height="30" fill="#c0c0c0"/>
<rect x="540" y="705" width="1" height="27" fill="#c0c0c0"/>
<rect x="548" y="705" width="1" height="26" fill="#c0c0c0"/>
<rect x="556" y="705" width="1" height="25" fill="#c0c0c0"/>
<rect x="564" y="705" width="1" height="18" fill="#c0c0c0"/>
<rect x="572" y="705" width="1" height="17" fill="#c0c0c0"/>
<rect x="580" y="705" width="1" height="14" fill="#c0c0c0"/>
<rect x="588" y="705" width="1" height="11" fill="#c0c0c0"/>
<rect x="596" y="705" width="1" height="5" fill="#c0c0c0"/>
<rect x="604" y="705" width="1" height="2" fill="#c0c0c0"/>
<rect x="612" y="702" width="1" height="4" fill="#c0c0c0"/>
<rect x="628" y="705" width="1" height="2" fill="#c0c0c0"/>
<rect x="636" y="705" width="1" height="5" fill="#c0c0c0"/>
<rect x="644" y="705" width="1" height="7" fill="#c0c0c0"/>
<rect x="652" y="705" width="1" height="9" fill="#c0c0c0"/>
<rect x="660" y="705" width="1" height="7" fill="#c0c0c0"/>
<rect x="668" y="705" width="1" height="2" fill="#c0c0c0"/>
<rect x="676" y="701" width="1" height="5" fill="#c0c0c0"/>
<rect x="684" y="698" width="1" height="8" fill="#c0c0c0"/>
<rect x="692" y="693" width="1" height="13" fill="#c0c0c0"/>
<rect x="700" y="690" width="1" height="16" fill="#c0c0c0"/>
<rect x="708" y="691" width="1" height="15" fill="#c0c0c0"/>
<rect x="716" y="693" width="1" height="13" fill="#c0c0c0"/>
<rect x="724" y="697" width="1" height="9" fill="#c0c0c0"/>
<rect x="740" y="705" width="1" height="10" fill="#c0c0c0"/>
<rect x="748" y="705" width="1" height="17" fill="#c0c0c0"/>
<rect x="756" y="705" width="1" height="22" fill="#c0c0c0"/>
<rect x="764" y="705" width="1" height="18" fill="#c0c0c0"/>
<rect x="772" y="705" width="1" height="16" fill="#c0c0c0"/>
<rect x="780" y="705" width="1" height="9" fill="#c0c0c0"/>
<rect x="788" y="704" width="1" height="2" fill="#c0c0c0"/>
<rect x="796" y="696" width="1" height="10" fill="#c0c0c0"/>
<rect x="804" y="694" width="1" height="12" fill="#c0c0c0"/>
<rect x="812" y="693" width="1" height="13" fill="#c0c0c0"/>
<rect x="820" y="695" width="1" height="11" fill="#c0c0c0"/>
<rect x="828" y="695" width="1" height="11" fill="#c0c0c0"/>
<rect x="836" y="693" width="1" height="13" fill="#c0c0c0"/>
<rect x="844" y="691" width="1" height="15" fill="#c0c0c0"/>
<rect x="852" y="688" width="1" height="18" fill="#c0c0c0"/>
<rect x="860" y="686" width="1" height="20" fill="#c0c0c0"/>
<rect x="868" y="686" width="1" height="20" fill="#c0c0c0"/>
<rect x="876" y="685" width="1" height="21" fill="#c0c0c0"/>
<rect x="884" y="685" width="1" height="21" fill="#c0c0c0"/>
<rect x="892" y="685" width="1" height="21" fill="#c0c0c0"/>
<rect x="900" y="686" width="1" height="20" fill="#c0c0c0"/>
<rect x="908" y="684" width="1" height="22" fill="#c0c0c0"/>
<rect x="916" y="681" width="1" height="25" fill="#c0c0c0"/>
<rect x="924" y="679" width="1" height="27" fill="#c0c0c0"/>
<rect x="932" y="675" width="1" height="31" fill="#c0c0c0"/>
<rect x="940" y="671" width="1" height="35" fill="#c0c0c0"/>
<rect x="948" y="671" width="1" height="35" fill="#c0c0c0"/>
<rect x="956" y="662" width="1" height="44" fill="#c0c0c0"/>
<rect x="964" y="653" width="1" height="53" fill="#c0c0c0"/>
<rect x="972" y="644" width="1" height="62" fill="#c0c0c0"/>
<rect x="980" y="638" width="1" height="68" fill="#c0c0c0"/>
<rect x="988" y="636" width="1" height="70" fill="#c0c0c0"/>
<rect x="996" y="635" width="1" height="71" fill="#c0c0c0"/>
<rect x="1004" y="636" width="1" height="70" fill="#c0c0c0"/>
<rect x="1012" y="639" width="1" height="67" fill="#c0c0c0"/>
<rect x="1020" y="638" width="1" height="68" fill="#c0c0c0"/>
<rect x="1028" y="640" width="1" height="66" fill="#c0c0c0"/>
<rect x="1036" y="641" width="1" height="65" fill="#c0c0c0"/>
<rect x="1044" y="641" width="1" height="65" fill="#c0c0c0"/>
<rect x="1052" y="642" width="1" height="64" fill="#c0c0c0"/>
<rect x="1060" y="641" width="1" height="65" fill="#c0c0c0"/>
<rect x="1068" y="638" width="1" height="68" fill="#c0c0c0"/>
<rect x="1076" y="634" width="1" height="72" fill="#c0c0c0"/>
<rect x="1084" y="636" width="1" height="70" fill="#c0c0c0"/>
<rect x="1092" y="636" width="1" height="70" fill="#c0c0c0"/>
<rect x="1100" y="640" width="1" height="66" fill="#c0c0c0"/>
<rect x="1108" y="644" width="1" height="62" fill="#c0c0c0"/>
<rect x="1116" y="648" width="1" height="58" fill="#c0c0c0"/>
<rect x="1124" y="651" width="1" height="55" fill="#c0c0c0"/>
<rect x="1132" y="653" width="1" height="53" fill="#c0c0c0"/>
<rect x="1140" y="653" width="1" height="53" fill="#c0c0c0"/>
<rect x="1148" y="653" width="1" height="53" fill="#c0c0c0"/>
<rect x="1156" y="656" width="1" height="50" fill="#c0c0c0"/>
<rect x="1164" y="658" width="1" height="48" fill="#c0c0c0"/>
<rect x="1172" y="657" width="1" height="49" fill="#c0c0c0"/>
<rect x="1180" y="655" width="1" height="51" fill="#c0c0c0"/>
<rect x="1188" y="652" width="1" height="54" fill="#c0c0c0"/>
<rect x="1196" y="655" width="1" height="51" fill="#c0c0c0"/>
<rect x="1204" y="662" width="1" height="44" fill="#c0c0c0"/>
<rect x="1212" y="669" width="1" height="37" fill="#c0c0c0"/>
<rect x="1220" y="676" width="1" height="30" fill="#c0c0c0"/>
<rect x="1228" y="681" width="1" height="25" fill="#c0c0c0"/>
<rect x="1236" y="687" width="1" height="19" fill="#c0c0c0"/>
<rect x="1244" y="692" width="1" height="14" fill="#c0c0c0"/>
<rect x="1252" y="702" width="1" height="4" fill="#c0c0c0"/>
<rect x="1260" y="705" width="1" height="5" fill="#c0c0c0"/>
<rect x="1268" y="705" width="1" height="11" fill="#c0c0c0"/>
<rect x="1276" y="705" width="1" height="11" fill="#c0c0c0"/>
<rect x="1284" y="705" width="1" height="13" fill="#c0c0c0"/>
<rect x="1292" y="705" width="1" height="11" fill="#c0c0c0"/>
<rect x="1300" y="705" width="1" height="9" fill="#c0c0c0"/>
<rect x="1308" y="705" width="1" height="7" fill="#c0c0c0"/>
<rect x="1316" y="705" width="1" height="7" fill="#c0c0c0"/>
<rect x="1324" y="705" width="1" height="7" fill="#c0c0c0"/>
<rect x="1332" y="705" width="1" height="9" fill="#c0c0c0"/>
<rect x="1340" y="705" width="1" height="10" fill="#c0c0c0"/>
<rect x="1348" y="705" width="1" height="10" fill="#c0c0c0"/>
<rect x="1356" y="705" width="1" height="11" fill="#c0c0c0"/>
<rect x="1364" y="705" width="1" height="14" fill="#c0c0c0"/>
<rect x="1372" y="705" width="1" height="19" fill="#c0c0c0"/>
<rect x="1380" y="705" width="1" height="23" fill="#c0c0c0"/>
<rect x="1388" y="705" width="1" height="28" fill="#c0c0c0"/>
<rect x="1396" y="705" width="1" height="31" fill="#c0c0c0"/>
<rect x="1404" y="705" width="1" height="31" fill="#c0c0c0"/>
<rect x="1412" y="705" width="1" height="29" fill="#c0c0c0"/>
<rect x="1420" y="705" width="1" height="24" fill="#c0c0c0"/>
</g>
<polyline fill="none" stroke="#ff0000" stroke-width="1" points="2.1,677.3 12.5,675.2 20.8,672.5 29.1,670.0 37.4,667.7 45.7,663.6 56.1,658.0 66.5,650.7 76.9,645.9 87.2,638.2 99.7,627.9 108.0,621.2 118.4,612.3 128.8,605.0 141.3,598.8 151.6,594.6 164.1,592.5 176.6,594.2 187.0,598.8 199.4,605.0 211.9,611.2 224.3,618.1 236.8,622.7 249.3,628.5 261.7,631.6 274.2,635.7 286.7,639.9 299.1,645.5 311.6,651.7 322.0,655.9 332.4,658.4 344.8,660.5 352.0,661.5 364.5,664.2 376.9,666.9 389.4,671.9 401.9,678.7 414.3,683.9 426.8,688.1 437.2,691.8 449.6,693.7 462.1,694.3 476.6,697.4 489.1,702.6 501.6,708.9 512.0,715.1 520.3,720.9 530.6,726.5 541.0,731.3 553.5,733.8 566.0,733.2 578.4,729.6 590.9,725.5 603.4,720.3 613.7,715.7 626.2,712.0 638.7,708.9 653.2,707.8 669.8,707.2 684.4,706.4 696.8,703.7 704.0,702.2 714.4,700.1 724.8,697.0 735.2,696.4 743.5,698.5 753.9,702.6 764.2,705.8 774.6,710.9 787.1,714.5 799.6,713.0 812.0,709.5 824.5,704.7 834.9,700.6 845.3,696.0 857.7,692.3 870.2,690.2 882.6,688.7 899.3,686.6 911.7,685.0 926.3,683.3 938.7,680.4 951.2,678.7 963.7,673.6 972.0,669.4 982.4,662.1 994.8,654.9 1005.2,649.3 1015.6,643.4 1023.9,640.3 1036.4,638.2 1046.8,637.6 1064.0,638.7 1072.0,638.7 1092.8,638.2 1113.5,639.3 1138.5,642.4 1155.1,646.5 1171.7,651.3 1188.3,652.2 1204.9,654.2 1217.4,656.9 1229.9,662.1 1242.3,668.4 1252.7,674.6 1263.1,682.9 1271.4,691.2 1281.8,698.5 1292.2,703.7 1302.6,708.9 1313.0,712.0 1323.4,713.4 1335.8,713.0 1350.4,713.4 1362.8,714.1 1375.3,715.5 1387.7,718.8 1396.0,722.4 1408.5,725.9 1420.4,728.0" stroke-dasharray="3,3" shape-rendering="crispEdges"/>
<polyline fill="none" stroke="#1e90ff" stroke-width="1" points="0.0,810.6 4.5,810.6 12.5,817.4 20.5,810.6 28.5,810.2 36.5,808.1 44.5,799.8 52.5,796.2 60.5,793.1 68.5,789.4 76.5,788.4 84.5,780.0 92.5,793.1 100.5,789.0 108.5,784.6 116.5,801.2 124.5,803.3 132.5,807.5 140.5,801.9 148.5,798.1 156.5,797.1 164.5,816.4 172.5,816.4 180.5,824.3 188.5,825.7 196.5,817.0 204.5,815.4 212.5,812.2 220.5,810.2 228.5,808.1 236.5,800.4 244.5,822.6 252.5,819.5 260.5,833.4 268.5,831.4 276.5,832.6 284.5,826.4 292.5,825.3 300.5,829.5 308.5,819.5 316.5,816.4 324.5,813.3 332.5,816.8 340.5,832.4 348.5,833.6 356.5,831.6 364.5,835.1 372.5,838.2 380.5,848.2 388.5,840.3 396.5,836.5 404.5,835.1 412.5,833.4 420.5,828.9 428.5,834.1 436.5,841.9 444.5,833.4 452.5,832.4 460.5,834.1 468.5,851.3 476.5,860.0 484.5,866.9 492.5,863.5 500.5,869.4 508.5,866.3 516.5,855.9 524.5,842.8 532.5,845.5 540.5,841.7 548.5,847.1 556.5,845.5 564.5,832.4 572.5,842.4 580.5,836.8 588.5,836.1 596.5,826.4 604.5,828.2 612.5,829.5 620.5,843.0 628.5,843.4 636.5,850.3 644.5,847.6 652.5,848.2 660.5,836.1 668.5,824.7 676.5,821.6 684.5,829.3 692.5,822.6 700.5,824.1 708.5,833.0 716.5,838.8 724.5,845.1 732.5,857.5 740.5,862.1 748.5,862.5 756.5,862.5 764.5,836.8 772.5,841.3 780.5,828.4 788.5,819.5 796.5,818.5 804.5,831.4 812.5,832.6 820.5,837.8 828.5,834.1 836.5,830.5 844.5,828.4 852.5,825.3 860.5,825.3 868.5,829.3 876.5,825.3 884.5,827.4 892.5,826.4 900.5,832.4 908.5,821.6 916.5,818.5 924.5,819.5 932.5,811.2 940.5,809.5 948.5,819.1 956.5,801.2 964.5,797.3 972.5,794.2 980.5,796.2 988.5,801.2 996.5,804.3 1004.5,804.6 1012.5,814.3 1020.5,804.6 1028.5,813.7 1036.5,810.6 1044.5,808.5 1052.5,807.5 1060.5,800.8 1068.5,796.7 1076.5,799.8 1084.5,809.1 1092.5,806.4 1100.5,819.5 1108.5,818.5 1116.5,820.6 1124.5,817.4 1132.5,814.3 1140.5,809.7 1148.5,802.5 1156.5,825.1 1164.5,819.5 1172.5,819.5 1180.5,811.8 1188.5,807.5 1196.5,824.7 1204.5,834.5 1212.5,839.2 1220.5,844.4 1228.5,835.5 1236.5,842.8 1244.5,845.1 1252.5,856.3 1260.5,858.6 1268.5,855.2 1276.5,843.4 1284.5,847.6 1292.5,837.6 1300.5,837.2 1308.5,837.6 1316.5,842.4 1324.5,838.8 1332.5,849.0 1340.5,845.5 1348.5,843.4 1356.5,845.1 1364.5,854.8 1372.5,859.4 1380.5,859.4 1388.5,870.4 1396.5,852.7 1404.5,850.3 1412.5,850.0 1420.5,837.2" shape-rendering="crispEdges"/>
<line x1="1193.9" y1="63.1" x2="1266.9" y2="194.0" stroke="#ff0000" stroke-width="3.3" stroke-linecap="butt"/><polygon fill="#ff0000" points="1271.8,202.7 1261.1,194.9 1270.8,189.5"/>
<line x1="1271.8" y1="202.7" x2="1297.5" y2="142.5" stroke="#ff0000" stroke-width="3.3" stroke-linecap="butt"/><polygon fill="#ff0000" points="1301.4,133.3 1301.8,146.5 1291.6,142.2"/>
<line x1="1301.4" y1="133.3" x2="1385.7" y2="239.2" stroke="#ff0000" stroke-width="3.3" stroke-linecap="butt"/><polygon fill="#ff0000" points="1391.9,247.0 1380.1,241.0 1388.7,234.2"/>
<line x1="1391.9" y1="247.0" x2="1431.6" y2="176.7" stroke="#ff0000" stroke-width="3.3" stroke-linecap="butt"/><polygon fill="#ff0000" points="1436.5,168.0 1435.4,181.2 1425.8,175.7"/>
<line x1="1096.9" y1="635.7" x2="1391.2" y2="731.4" stroke="#ff0000" stroke-width="3.5" stroke-linecap="butt"/><polygon fill="#ff0000" points="1399.8,734.2 1388.0,734.8 1390.7,726.8"/>
<line x1="1131.8" y1="800.4" x2="1374.3" y2="865.0" stroke="#ff0000" stroke-width="3.3" stroke-linecap="butt"/><polygon fill="#ff0000" points="1383.0,867.3 1371.3,868.6 1373.5,860.4"/>
<line x1="1383.0" y1="867.3" x2="1415.8" y2="849.7" stroke="#ff0000" stroke-width="3.3" stroke-linecap="butt"/><polygon fill="#ff0000" points="1423.7,845.5 1416.0,854.4 1412.0,846.9"/>
<rect x="1325" y="176" width="144" height="7" fill="#00ff00" shape-rendering="crispEdges"/>
<rect x="260.5" y="212.5" width="62.0" height="18.0" fill="#fff" stroke="#ff0000" stroke-width="1"/>
<text x="262.5" y="227.5" font-size="16" fill="#ff0000" stroke="#ff0000" stroke-width=".25" textLength="58.0" lengthAdjust="spacingAndGlyphs">1.20100</text>
<polyline fill="none" stroke="#ff0000" stroke-width="1" points="322,221.5 332,221.5" shape-rendering="crispEdges"/>
<rect x="701.5" y="417.5" width="61.0" height="18.0" fill="#fff" stroke="#ff0000" stroke-width="1"/>
<text x="703.5" y="432.5" font-size="16" fill="#ff0000" stroke="#ff0000" stroke-width=".25" textLength="58.0" lengthAdjust="spacingAndGlyphs">1.15991</text>
<polyline fill="none" stroke="#ff0000" stroke-width="1" points="762,426.5 772,426.5" shape-rendering="crispEdges"/>
<rect x="997.5" y="80.5" width="61.0" height="18.0" fill="#fff" stroke="#ff0000" stroke-width="1"/>
<text x="999.5" y="95.5" font-size="16" fill="#ff0000" stroke="#ff0000" stroke-width=".25" textLength="58.0" lengthAdjust="spacingAndGlyphs">1.22739</text>
<polyline fill="none" stroke="#ff0000" stroke-width="1" points="1058,89.5 1068,89.5" shape-rendering="crispEdges"/>
<rect x="1117.5" y="44.5" width="61.0" height="18.0" fill="#fff" stroke="#ff0000" stroke-width="1"/>
<text x="1119.5" y="59.5" font-size="16" fill="#ff0000" stroke="#ff0000" stroke-width=".25" textLength="58.0" lengthAdjust="spacingAndGlyphs">1.23454</text>
<polyline fill="none" stroke="#ff0000" stroke-width="1" points="1178,53.5 1188,53.5" shape-rendering="crispEdges"/>
<rect x="1325.5" y="242.5" width="61.0" height="18.0" fill="#fff" stroke="#ff0000" stroke-width="1"/>
<text x="1327.5" y="257.5" font-size="16" fill="#ff0000" stroke="#ff0000" stroke-width=".25" textLength="58.0" lengthAdjust="spacingAndGlyphs">1.19494</text>
<polyline fill="none" stroke="#ff0000" stroke-width="1" points="1386,251.5 1396,251.5" shape-rendering="crispEdges"/>
<rect x="1143.5" y="168.5" width="73.0" height="24.0" fill="#fff" stroke="#ff0000" stroke-width="1"/>
<text x="1144.3" y="189.0" font-size="22" fill="#ff0000" stroke="#ff0000" stroke-width=".25" textLength="72.3" lengthAdjust="spacingAndGlyphs">1.20906</text>
<rect x="1140.5" y="178.5" width="2" height="3" fill="#fff" stroke="#ff0000"/><rect x="1133" y="180" width="7" height="1" fill="#ff0000"/>
<text x="1446" y="222" font-size="21" fill="#00ff00" font-family="'Liberation Sans','Noto Sans CJK SC',sans-serif" font-weight="300" textLength="107" lengthAdjust="spacing">多空转折点</text>
<g shape-rendering="crispEdges" fill="#000">
<rect x="0" y="24" width="1687" height="1"/>
<rect x="1686" y="24" width="1" height="902"/>
<rect x="0" y="577" width="1687" height="1"/>
<rect x="0" y="579" width="1687" height="1"/>
<rect x="0" y="749" width="1687" height="1"/>
<rect x="0" y="751" width="1687" height="1"/>
<rect x="0" y="925" width="1687" height="1"/>
<rect x="1686" y="578" width="1" height="1" fill="#fff"/><rect x="1686" y="750" width="1" height="1" fill="#fff"/>
<rect x="1687" y="46" width="2" height="1"/>
<rect x="1687" y="79" width="2" height="1"/>
<rect x="1687" y="112" width="2" height="1"/>
<rect x="1687" y="145" width="2" height="1"/>
<rect x="1687" y="178" width="2" height="1"/>
<rect x="1687" y="211" width="2" height="1"/>
<rect x="1687" y="244" width="2" height="1"/>
<rect x="1687" y="277" width="2" height="1"/>
<rect x="1687" y="310" width="2" height="1"/>
<rect x="1687" y="343" width="2" height="1"/>
<rect x="1687" y="376" width="2" height="1"/>
<rect x="1687" y="409" width="2" height="1"/>
<rect x="1687" y="442" width="2" height="1"/>
<rect x="1687" y="475" width="2" height="1"/>
<rect x="1687" y="508" width="2" height="1"/>
<rect x="1687" y="541" width="2" height="1"/>
<rect x="1687" y="574" width="2" height="1"/>
<rect x="1687" y="581" width="1" height="1"/>
<rect x="1687" y="705" width="1" height="1"/>
<rect x="1687" y="748" width="1" height="1"/>
<rect x="1687" y="753" width="1" height="1"/>
<rect x="-4" y="926" width="1" height="4"/>
<rect x="60" y="926" width="1" height="4"/>
<rect x="124" y="926" width="1" height="4"/>
<rect x="188" y="926" width="1" height="4"/>
<rect x="252" y="926" width="1" height="4"/>
<rect x="316" y="926" width="1" height="4"/>
<rect x="380" y="926" width="1" height="4"/>
<rect x="444" y="926" width="1" height="4"/>
<rect x="508" y="926" width="1" height="4"/>
<rect x="572" y="926" width="1" height="4"/>
<rect x="636" y="926" width="1" height="4"/>
<rect x="700" y="926" width="1" height="4"/>
<rect x="764" y="926" width="1" height="4"/>
<rect x="828" y="926" width="1" height="4"/>
<rect x="892" y="926" width="1" height="4"/>
<rect x="956" y="926" width="1" height="4"/>
<rect x="1020" y="926" width="1" height="4"/>
<rect x="1084" y="926" width="1" height="4"/>
<rect x="1148" y="926" width="1" height="4"/>
<rect x="1212" y="926" width="1" height="4"/>
<rect x="1276" y="926" width="1" height="4"/>
<rect x="1340" y="926" width="1" height="4"/>
<rect x="1404" y="926" width="1" height="4"/>
</g>
<g font-size="10" fill="#000" stroke="#000" stroke-width=".15">
<text x="1692" y="49.9" textLength="32.6" lengthAdjust="spacingAndGlyphs">1.23585</text>
<text x="1692" y="82.9" textLength="32.6" lengthAdjust="spacingAndGlyphs">1.22925</text>
<text x="1692" y="115.9" textLength="32.6" lengthAdjust="spacingAndGlyphs">1.22265</text>
<text x="1692" y="214.9" textLength="32.6" lengthAdjust="spacingAndGlyphs">1.20285</text>
<text x="1692" y="247.9" textLength="32.6" lengthAdjust="spacingAndGlyphs">1.19625</text>
<text x="1692" y="280.9" textLength="32.6" lengthAdjust="spacingAndGlyphs">1.18965</text>
<text x="1692" y="313.9" textLength="32.6" lengthAdjust="spacingAndGlyphs">1.18305</text>
<text x="1692" y="346.9" textLength="32.6" lengthAdjust="spacingAndGlyphs">1.17645</text>
<text x="1692" y="379.9" textLength="32.6" lengthAdjust="spacingAndGlyphs">1.16985</text>
<text x="1692" y="412.9" textLength="32.6" lengthAdjust="spacingAndGlyphs">1.16325</text>
<text x="1692" y="445.9" textLength="32.6" lengthAdjust="spacingAndGlyphs">1.15665</text>
<text x="1692" y="478.9" textLength="32.6" lengthAdjust="spacingAndGlyphs">1.15005</text>
<text x="1692" y="511.9" textLength="32.6" lengthAdjust="spacingAndGlyphs">1.14345</text>
<text x="1692" y="544.9" textLength="32.6" lengthAdjust="spacingAndGlyphs">1.13685</text>
<text x="1692" y="577.9" textLength="32.6" lengthAdjust="spacingAndGlyphs">1.13025</text>
<text x="1690" y="590" textLength="37.8" lengthAdjust="spacingAndGlyphs">0.014706</text>
<text x="1690" y="708.6" textLength="17.8" lengthAdjust="spacingAndGlyphs">0.00</text>
<text x="1690" y="746" textLength="40.8" lengthAdjust="spacingAndGlyphs">-0.005113</text>
<text x="1690.5" y="762" textLength="14.5" lengthAdjust="spacingAndGlyphs">100</text><text x="1689.5" y="790.7">80</text><text x="1689.5" y="842">50</text><text x="1690.5" y="903">15</text><text x="1689.5" y="922">0</text>
<text x="0" y="937.8" font-size="9.4">4 Jul 2020</text>
<text x="59" y="937.8" font-size="9.4">23 Jul 2020</text>
<text x="123" y="937.8" font-size="9.4">2 Aug 2020</text>
<text x="187" y="937.8" font-size="9.4">11 Aug 2020</text>
<text x="251" y="937.8" font-size="9.4">20 Aug 2020</text>
<text x="315" y="937.8" font-size="9.4">30 Aug 2020</text>
<text x="379" y="937.8" font-size="9.4">8 Sep 2020</text>
<text x="443" y="937.8" font-size="9.4">17 Sep 2020</text>
<text x="507" y="937.8" font-size="9.4">27 Sep 2020</text>
<text x="571" y="937.8" font-size="9.4">6 Oct 2020</text>
<text x="635" y="937.8" font-size="9.4">15 Oct 2020</text>
<text x="699" y="937.8" font-size="9.4">25 Oct 2020</text>
<text x="763" y="937.8" font-size="9.4">3 Nov 2020</text>
<text x="827" y="937.8" font-size="9.4">12 Nov 2020</text>
<text x="891" y="937.8" font-size="9.4">22 Nov 2020</text>
<text x="955" y="937.8" font-size="9.4">1 Dec 2020</text>
<text x="1019" y="937.8" font-size="9.4">10 Dec 2020</text>
<text x="1083" y="937.8" font-size="9.4">20 Dec 2020</text>
<text x="1147" y="937.8" font-size="9.4">30 Dec 2020</text>
<text x="1211" y="937.8" font-size="9.4">10 Jan 2021</text>
<text x="1275" y="937.8" font-size="9.4">19 Jan 2021</text>
<text x="1339" y="937.8" font-size="9.4">28 Jan 2021</text>
<text x="1403" y="937.8" font-size="9.4">7 Feb 2021</text>
<text x="11.3" y="36" textLength="66.6" lengthAdjust="spacingAndGlyphs">EURUSD-,Daily</text><text x="84.2" y="36" textLength="140.6" lengthAdjust="spacingAndGlyphs">1.20515 1.21204 1.20486 1.21177</text>
<text x="1" y="592" textLength="153" lengthAdjust="spacingAndGlyphs">MACD(12,26,9) -0.002753 -0.002714</text>
<text x="1" y="764" textLength="67" lengthAdjust="spacingAndGlyphs">RSI(14) 51.6165</text>
</g>
<polygon points="0,35 3,31 6,35" fill="#000"/>
<polygon points="1427,25 1437,25 1432,30" fill="#c0c0c0"/>
<rect x="1688" y="210" width="41" height="11" fill="#0000ff" shape-rendering="crispEdges"/>
<text x="1692" y="219.1" font-size="10" fill="#fff" textLength="32.6" lengthAdjust="spacingAndGlyphs">1.20187</text>
<rect x="1681.5" y="214.5" width="4" height="4" fill="#fff" stroke="#0000ff" shape-rendering="crispEdges"/>
<rect x="0" y="214" width="1" height="5" fill="#0000ff" shape-rendering="crispEdges"/>
<rect x="1688" y="191" width="41" height="11" fill="#0000ff" shape-rendering="crispEdges"/>
<text x="1692" y="200.1" font-size="10" fill="#fff" textLength="32.6" lengthAdjust="spacingAndGlyphs">1.20566</text>
<rect x="1681.5" y="195.5" width="4" height="4" fill="#fff" stroke="#0000ff" shape-rendering="crispEdges"/>
<rect x="0" y="195" width="1" height="5" fill="#0000ff" shape-rendering="crispEdges"/>
<rect x="1688" y="123" width="41" height="11" fill="#ff0000" shape-rendering="crispEdges"/>
<text x="1692" y="132.1" font-size="10" fill="#fff" textLength="32.6" lengthAdjust="spacingAndGlyphs">1.21924</text>
<rect x="1681.5" y="127.5" width="4" height="4" fill="#fff" stroke="#ff0000" shape-rendering="crispEdges"/>
<rect x="0" y="127" width="1" height="5" fill="#ff0000" shape-rendering="crispEdges"/>
<rect x="1688" y="142" width="41" height="11" fill="#ff0000" shape-rendering="crispEdges"/>
<text x="1692" y="151.1" font-size="10" fill="#fff" textLength="32.6" lengthAdjust="spacingAndGlyphs">1.21544</text>
<rect x="1681.5" y="146.5" width="4" height="4" fill="#fff" stroke="#ff0000" shape-rendering="crispEdges"/>
<rect x="0" y="146" width="1" height="5" fill="#ff0000" shape-rendering="crispEdges"/>
<rect x="1688" y="174" width="41" height="11" fill="#ffa500" shape-rendering="crispEdges"/>
<text x="1692" y="183.1" font-size="10" fill="#fff" textLength="32.6" lengthAdjust="spacingAndGlyphs">1.20906</text>
<rect x="1688" y="162" width="41" height="11" fill="#000000" shape-rendering="crispEdges"/>
<text x="1692" y="171.1" font-size="10" fill="#fff" textLength="32.6" lengthAdjust="spacingAndGlyphs">1.21177</text>
</svg>
<div id="panel" style="position:absolute;left:0;top:44px;width:218px;height:64px;font-family:'Liberation Sans',sans-serif;color:#fff;">
 <div style="position:absolute;left:0;top:0;width:218px;height:64px;background:linear-gradient(#5050f8 0%,#3838e0 35%,#1010c0 70%,#0000a8 100%);"></div>
 <div style="position:absolute;left:50px;top:0;width:116px;height:24px;background:#fff;"></div>
 <div style="position:absolute;left:108px;top:24px;width:2px;height:40px;background:#fff;"></div>
 <div style="position:absolute;left:3px;top:23px;width:44px;height:1px;background:#9a9af8;"></div>
 <div style="position:absolute;left:170px;top:23px;width:44px;height:1px;background:#9a9af8;"></div>
 <div style="position:absolute;left:53px;top:0;width:110px;height:21px;border:1px solid #a8a8a8;background:#fff;box-sizing:border-box;"></div>
 <div style="position:absolute;left:54px;top:1px;width:20px;height:19px;background:linear-gradient(#f4f4f4,#d4d4d4);border-right:1px solid #b0b0b0;box-sizing:border-box;"></div>
 <div style="position:absolute;left:142px;top:1px;width:20px;height:19px;background:linear-gradient(#f4f4f4,#d4d4d4);border-left:1px solid #b0b0b0;box-sizing:border-box;"></div>
 <svg width="218" height="64" style="position:absolute;left:0;top:0" font-family="'Liberation Sans',sans-serif">
  <path d="M61 9h5l-2.500 3z" fill="#4858c0"/><path d="M150 12h5l-2.500-3z" fill="#4858c0"/>
  <text x="11.700" y="16" font-size="12" fill="#fff" textLength="25" lengthAdjust="spacingAndGlyphs">SELL</text>
  <text x="179.400" y="16" font-size="12" fill="#fff" textLength="23.600" lengthAdjust="spacingAndGlyphs">BUY</text>
  <text x="115.500" y="15.300" font-size="12" fill="#000" textLength="23.200" lengthAdjust="spacingAndGlyphs">1.00</text>
  <text x="19.600" y="54.400" font-size="10.500" font-weight="bold" fill="#fff" textLength="23.500" lengthAdjust="spacingAndGlyphs">1.21</text>
  <text x="129.400" y="54.400" font-size="10.500" font-weight="bold" fill="#fff" textLength="23.500" lengthAdjust="spacingAndGlyphs">1.21</text>
  <text x="46.500" y="54.400" font-size="32" fill="#fff" textLength="34" lengthAdjust="spacingAndGlyphs">17</text>
  <text x="157.500" y="54.400" font-size="32" fill="#fff" textLength="34" lengthAdjust="spacingAndGlyphs">21</text>
  <text x="86" y="38.700" font-size="11.500" font-weight="bold" fill="#fff">7</text>
  <text x="196.500" y="38.700" font-size="11.500" font-weight="bold" fill="#fff">4</text>
 </svg>
</div>

</body></html>
